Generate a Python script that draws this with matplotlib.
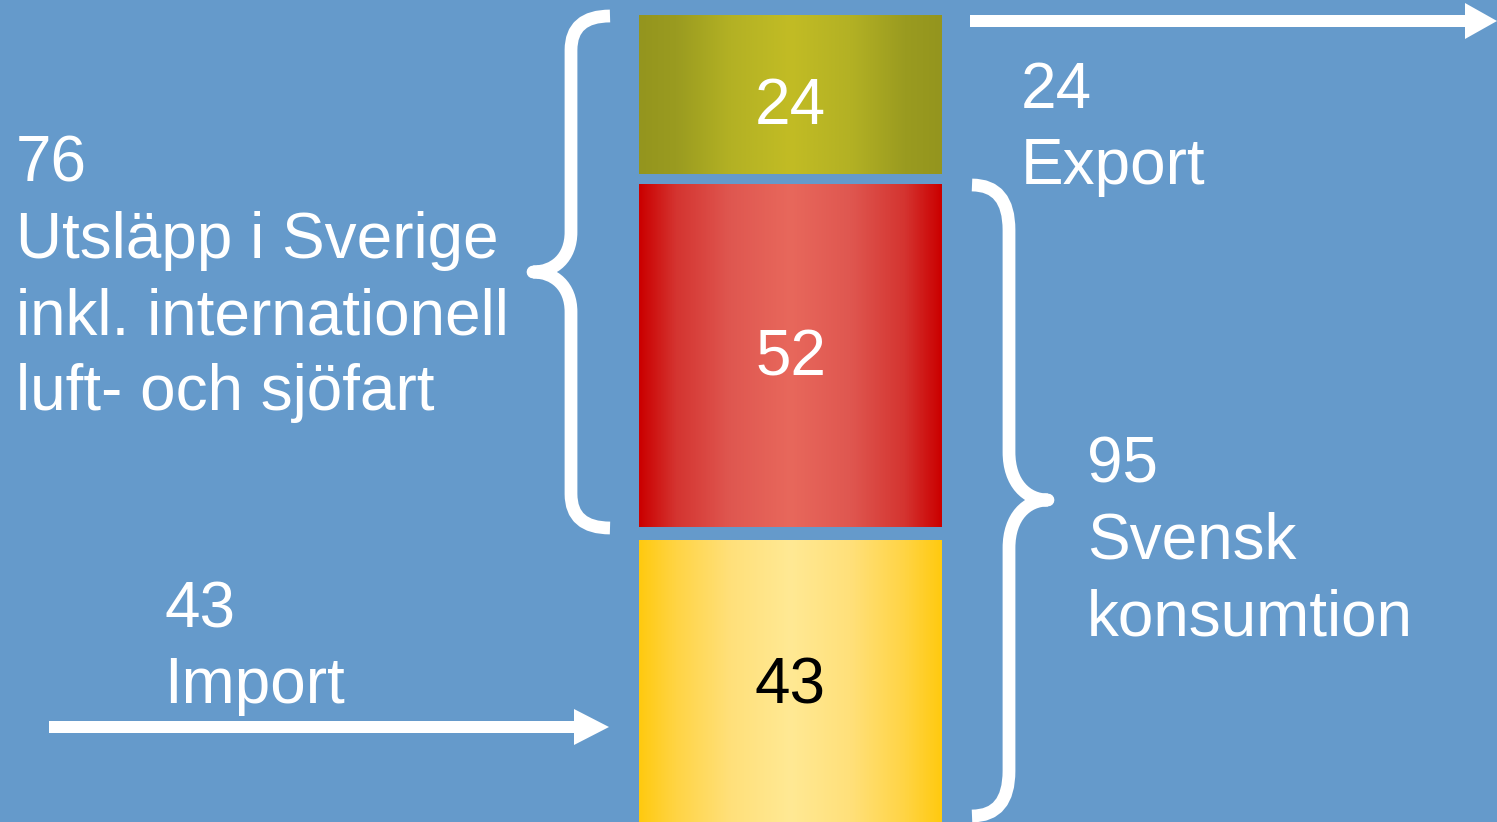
import numpy as np
import matplotlib
matplotlib.use("Agg")
import matplotlib.pyplot as plt
from matplotlib.path import Path
import matplotlib.patches as pc
from matplotlib.colors import LinearSegmentedColormap

# utslapp (miljoner ton), nerifran och upp
segment = ["Import", "Svensk produktion", "Export"]
varden = [43, 52, 24]
etikett_farg = ["black", "white", "white"]
# gradient: kant -> mitt
grad_stopp = [
    ["#FFCA10", "#FFD444", "#FFE07A", "#FFE994"],
    ["#CB0000", "#D43430", "#DF5750", "#E8685C"],
    ["#94951E", "#9A9B20", "#B3B124", "#C2BC24"],
]
grad_pos = [0.0, 0.12, 0.3, 0.5]

utslapp_sverige = varden[1] + varden[2]
konsumtion = varden[0] + varden[1]

bg = "#659ACB"
W, H = 1497, 822
fig = plt.figure(figsize=(W / 100, H / 100), dpi=100)
fig.patch.set_facecolor(bg)

ax = fig.add_axes([0, 0, 1, 1])
ax.set_facecolor(bg)

gap = [0, 2.0, 1.5]
bottoms = []
b = 0
for i in range(len(varden)):
    b += gap[i]
    bottoms.append(b)
    b += varden[i]

x0, x1 = 639, 942
bars = ax.bar((x0 + x1) / 2, varden, width=x1 - x0, bottom=bottoms,
              color="none", edgecolor="none")

# liten justering av etiketterna (punkter, positivt = upp)
etikett_dy = [1, 2, -4.5]
for i, rect in enumerate(bars):
    pos = grad_pos + [1 - p for p in grad_pos[::-1][1:]]
    cols = grad_stopp[i] + grad_stopp[i][::-1][1:]
    cmap = LinearSegmentedColormap.from_list("g%d" % i, list(zip(pos, cols)))
    grad = np.linspace(0, 1, 400).reshape(1, -1)
    im = ax.imshow(grad, extent=[x0, x1, bottoms[i], bottoms[i] + varden[i]],
                   aspect="auto", cmap=cmap, vmin=0, vmax=1, zorder=2)
    im.set_clip_path(rect)
    ax.annotate(str(varden[i]), xy=((x0 + x1) / 2, bottoms[i] + varden[i] / 2),
                xytext=(0, -0.358 * 46 + etikett_dy[i]), textcoords="offset points",
                ha="center", va="baseline", fontsize=46,
                family="Liberation Sans", color=etikett_farg[i], zorder=3)

ax.set_xlim(0, W)
ax.set_ylim(0.27, 124.82)
ax.axis("off")

# overlay i pixelkoordinater for klammer, pilar och text
ov = fig.add_axes([0, 0, 1, 1])
ov.set_xlim(0, W)
ov.set_ylim(H, 0)
ov.axis("off")
ov.patch.set_alpha(0)


def klammer(xe, xm, xt, ytop, ymid, ybot, r, rt):
    # xe = ande, xm = lodrat streck, xt = spets
    s = np.sign(xe - xm)
    verts = [(xe, ytop), (xm, ytop), (xm, ytop + r),
             (xm, ymid - rt),
             (xm, ymid - rt * 0.35), (xt + s * 0.55 * abs(xm - xt), ymid), (xt, ymid),
             (xt + s * 0.55 * abs(xm - xt), ymid), (xm, ymid + rt * 0.35), (xm, ymid + rt),
             (xm, ybot - r),
             (xm, ybot), (xe, ybot)]
    codes = [Path.MOVETO, Path.CURVE3, Path.CURVE3, Path.LINETO,
             Path.CURVE4, Path.CURVE4, Path.CURVE4,
             Path.CURVE4, Path.CURVE4, Path.CURVE4,
             Path.LINETO, Path.CURVE3, Path.CURVE3]
    p = pc.PathPatch(Path(verts, codes), facecolor="none", edgecolor="white",
                     lw=9.2, joinstyle="round", capstyle="butt")
    ov.add_patch(p)


klammer(610, 571, 533, 16, 272, 528, 34, 40)
klammer(972, 1009, 1048, 185, 500, 816, 45, 48)

# pilar
ov.add_patch(pc.Polygon([(970, 15), (1465, 15), (1465, 3), (1497, 21),
                         (1465, 39), (1465, 27), (970, 27)],
                        closed=True, facecolor="white", edgecolor="none"))
ov.add_patch(pc.Polygon([(49, 721), (574, 721), (574, 709), (609, 727),
                         (574, 745), (574, 733), (49, 733)],
                        closed=True, facecolor="white", edgecolor="none"))

fs = 46
tkw = dict(fontsize=fs, family="Liberation Sans", color="white", va="baseline", ha="left")
vanster = [str(utslapp_sverige), "Utsläpp i Sverige", "inkl. internationell", "luft- och sjöfart"]
for i, t in enumerate(vanster):
    ov.text(16, 182 + i * 76, t, **tkw)

ov.text(164, 627, str(varden[0]), **tkw)
ov.text(164, 703, segment[0], **tkw)

ov.text(1021, 108, str(varden[2]), **tkw)
ov.text(1021, 184, segment[2], **tkw)

ov.text(1087, 482, str(konsumtion), **tkw)
ov.text(1087, 558, "Svensk", **tkw)
ov.text(1087, 635, "konsumtion", **tkw)

fig.savefig("out.png", dpi=100, facecolor=bg)
